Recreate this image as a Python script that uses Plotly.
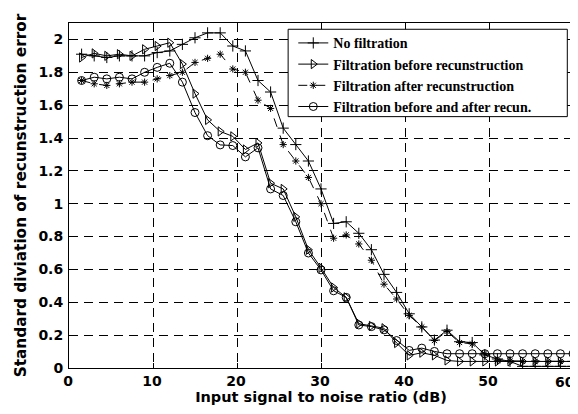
import plotly.graph_objects as go

snr = [1.5, 3, 4.5, 6, 7.5, 9, 10.5, 12, 13.5, 15, 16.5, 18, 19.5, 21, 22.5, 24,
       25.5, 27, 28.5, 30, 31.5, 33, 34.5, 36, 37.5, 39, 40.5, 42, 43.5, 45,
       46.5, 48, 49.5, 51, 52.5, 54, 55.5, 57, 58.5, 60]

no_filtration = [1.91, 1.90, 1.89, 1.90, 1.90, 1.90, 1.92, 1.93, 1.97, 2.01,
                 2.04, 2.04, 1.96, 1.93, 1.75, 1.68, 1.46, 1.36, 1.26, 1.09,
                 0.88, 0.89, 0.82, 0.72, 0.57, 0.46, 0.33, 0.25, 0.17, 0.23,
                 0.16, 0.155, 0.08, 0.055, 0.04, 0.01, 0.01, 0.01, 0.01, 0.01]

filt_before = [1.89, 1.915, 1.90, 1.91, 1.90, 1.94, 1.96, 1.98, 1.85, 1.67,
               1.51, 1.44, 1.41, 1.33, 1.37, 1.125, 1.09, 0.92, 0.72, 0.61,
               0.49, 0.43, 0.27, 0.256, 0.242, 0.152, 0.077, 0.093, 0.077, 0.046,
               0.04, 0.04, 0.04, 0.04, 0.04, 0.04, 0.04, 0.04, 0.04, 0.04]

filt_after = [1.75, 1.73, 1.72, 1.73, 1.74, 1.74, 1.76, 1.78, 1.80, 1.86,
              1.885, 1.91, 1.82, 1.80, 1.63, 1.58, 1.36, 1.26, 1.16, 1.00,
              0.79, 0.81, 0.755, 0.656, 0.51, 0.42, 0.32, 0.25, 0.167, 0.222,
              0.155, 0.147, 0.087, 0.044, 0.044, 0.04, 0.04, 0.04, 0.04, 0.04]

filt_both = [1.75, 1.77, 1.76, 1.77, 1.76, 1.80, 1.83, 1.855, 1.74, 1.555,
             1.414, 1.358, 1.354, 1.285, 1.34, 1.09, 1.05, 0.89, 0.70, 0.597,
             0.47, 0.43, 0.262, 0.252, 0.232, 0.167, 0.107, 0.121, 0.101, 0.087,
             0.087, 0.087, 0.087, 0.087, 0.087, 0.087, 0.087, 0.087, 0.087, 0.087]

x_ticks = [0, 10, 20, 30, 40, 50, 60]
x_tick_labels = ["0", "10", "20", "30", "40", "50", "60"]
y_ticks = [0, 0.2, 0.4, 0.6, 0.8, 1, 1.2, 1.4, 1.6, 1.8, 2]
y_tick_labels = ["0", "0.2", "0.4", "0.6", "0.8", "1", "1.2", "1.4", "1.6", "1.8", "2"]

series = [
    ("No filtration", no_filtration, "cross-thin", "solid", 8),
    ("Filtration before recunstruction", filt_before, "triangle-right-open", "solid", 8),
    ("Filtration after recunstruction", filt_after, "asterisk", "dash", 6),
    ("Filtration before and after recun.", filt_both, "circle-open", "solid", 8),
]

fig = go.Figure()
for name, vals, sym, dash, size in series:
    fig.add_trace(go.Scatter(
        x=snr, y=vals, name=name, mode="lines+markers",
        line=dict(color="black", width=1, dash=dash),
        marker=dict(symbol=sym, size=size, color="black",
                    line=dict(color="black", width=1)),
    ))

tickfont = dict(family="DejaVu Sans", size=14, color="black", weight="bold")

axis_common = dict(
    showline=True, linecolor="black", linewidth=1, mirror="allticks",
    ticks="inside", ticklen=5, tickcolor="black",
    showgrid=True, gridcolor="black", gridwidth=1, griddash="9px,6px",
    zeroline=False, automargin=False, ticklabeloverflow="allow",
    tickfont=tickfont,
)

# last x label is placed as an annotation so it stays inside the window edge
fig.update_xaxes(range=[0, 60], tickvals=x_ticks,
                 ticktext=x_tick_labels[:-1] + [""],
                 ticklabelstandoff=0, ticklabelshift=-1,
                 title=dict(text="Input signal to noise ratio (dB)", standoff=1,
                            font=dict(family="DejaVu Sans", size=14.5, color="black", weight="bold")),
                 **axis_common)
fig.update_yaxes(range=[0, 2.1], tickvals=y_ticks, ticktext=y_tick_labels,
                 ticklabelstandoff=2,
                 title=dict(text="Standard diviation of recunstruction error", standoff=8,
                            font=dict(family="DejaVu Sans", size=15.3, color="black", weight="bold")),
                 **axis_common)

fig.add_annotation(text=x_tick_labels[-1], x=1, y=0, xref="paper", yref="paper",
                   xanchor="right", yanchor="top", xshift=4, yshift=-4,
                   showarrow=False, font=tickfont)

# legend frame (drawn as a shape so the box matches the original's padding)
fig.add_shape(type="rect", xref="paper", yref="paper",
              x0=0.4348, x1=0.9887, y0=0.7286, y1=0.9818,
              fillcolor="white", line=dict(color="black", width=1), layer="above")

fig.update_layout(
    width=570, height=406,
    margin=dict(l=61, r=5.3, t=15, b=45.7),
    paper_bgcolor="white", plot_bgcolor="white",
    legend=dict(x=0.445, y=0.9875, xanchor="left", yanchor="top",
                bgcolor="rgba(0,0,0,0)", borderwidth=0,
                font=dict(family="Liberation Serif", size=14, color="black", weight="bold"),
                itemwidth=30, tracegroupgap=0),
    showlegend=True,
)

fig.write_html("out.html")
